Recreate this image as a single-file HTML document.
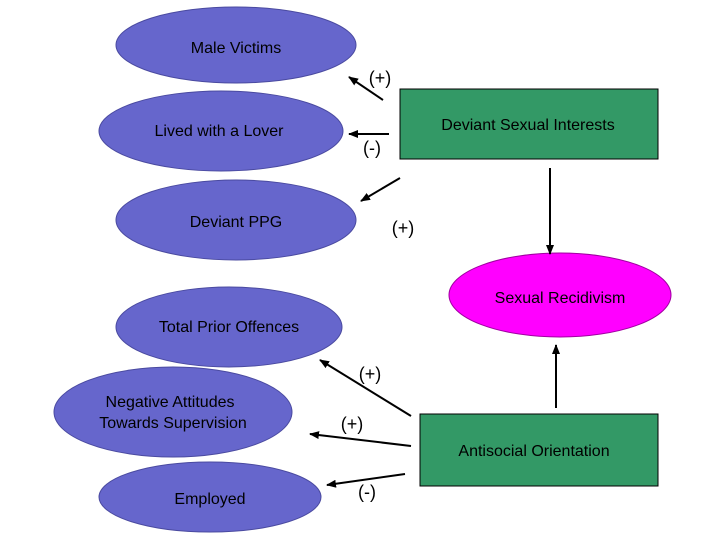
<!DOCTYPE html>
<html><head><style>body{margin:0;background:#fff}</style></head><body>
<svg width="720" height="540" xmlns="http://www.w3.org/2000/svg" font-family="Liberation Sans, sans-serif">
<defs><marker id="a" markerWidth="10" markerHeight="8" refX="9" refY="4" orient="auto" markerUnits="userSpaceOnUse"><path d="M0,0L10,4L0,8z" fill="#000"/></marker></defs>
<g fill="#6666cc" stroke="#4a4aa0" stroke-width="1">
<ellipse cx="236" cy="45" rx="120" ry="38"/>
<ellipse cx="221" cy="131" rx="122" ry="40"/>
<ellipse cx="236" cy="220" rx="120" ry="40"/>
<ellipse cx="229" cy="327" rx="113" ry="40"/>
<ellipse cx="173" cy="412" rx="119" ry="45"/>
<ellipse cx="210" cy="497" rx="111" ry="35"/>
</g>
<ellipse cx="560" cy="295" rx="111" ry="42" fill="#ff00ff" stroke="#a000a0"/>
<rect x="400" y="89" width="258" height="70" fill="#339966" stroke="#000"/>
<rect x="420" y="414" width="238" height="72" fill="#339966" stroke="#000"/>
<g font-size="16" fill="#000">
<text x="236" y="53" text-anchor="middle">Male Victims</text>
<text x="219" y="136" text-anchor="middle">Lived with a Lover</text>
<text x="236" y="227" text-anchor="middle">Deviant PPG</text>
<text x="229" y="332" text-anchor="middle">Total Prior Offences</text>
<text x="170" y="407" text-anchor="middle">Negative Attitudes</text>
<text x="173" y="428" text-anchor="middle">Towards Supervision</text>
<text x="210" y="504" text-anchor="middle">Employed</text>
<text x="528" y="130" text-anchor="middle">Deviant Sexual Interests</text>
<text x="560" y="303" text-anchor="middle">Sexual Recidivism</text>
<text x="534" y="456" text-anchor="middle">Antisocial Orientation</text>
<g font-size="18">
<text x="380" y="84" text-anchor="middle">(+)</text>
<text x="372" y="154" text-anchor="middle">(-)</text>
<text x="403" y="234" text-anchor="middle">(+)</text>
<text x="370" y="380" text-anchor="middle">(+)</text>
<text x="352" y="430" text-anchor="middle">(+)</text>
<text x="367" y="498" text-anchor="middle">(-)</text>
</g></g>
<g stroke="#000" stroke-width="2" marker-end="url(#a)">
<line x1="383" y1="100" x2="349" y2="77"/>
<line x1="389" y1="134" x2="349" y2="134"/>
<line x1="400" y1="178" x2="361" y2="201"/>
<line x1="411" y1="416" x2="320" y2="360"/>
<line x1="411" y1="446" x2="310" y2="434"/>
<line x1="405" y1="474" x2="327" y2="485"/>
<line x1="550" y1="168" x2="550" y2="254"/>
<line x1="556" y1="408" x2="556" y2="345"/>
</g>
</svg>
</body></html>
